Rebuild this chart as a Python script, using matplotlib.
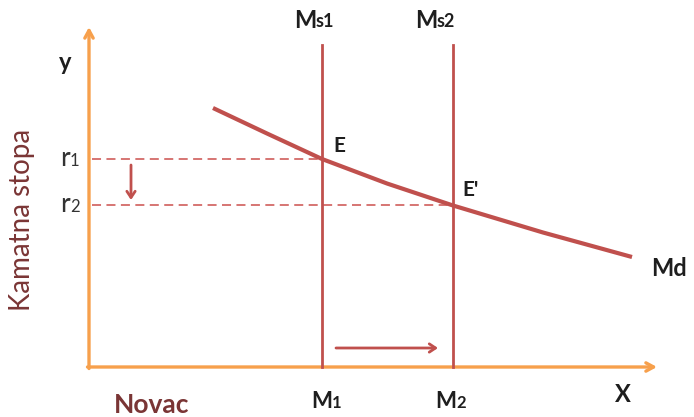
import matplotlib
matplotlib.use("Agg")
from matplotlib import pyplot as plt

plt.rcParams['font.family'] = ['Lato', 'DejaVu Sans']

# money market diagram, units: 1 unit ~ 50 px, origin at the axes corner
M1 = 4.66
M2 = 7.28
r1 = 4.16
r2 = 3.24
ms_top = 6.44

md_x = [2.48, 3.56, 4.66, 5.96, 7.28, 9.08, 10.86]
md_y = [5.18, 4.67, 4.16, 3.67, 3.23, 2.69, 2.20]

x_end = 11.36
y_end = 6.80

ORANGE = '#F7A04C'
RED = '#C0504D'
DASH = '#D36A68'
DARK = '#1E1E1E'
BROWN = '#7A3535'

fig = plt.figure(figsize=(6.94, 4.17), dpi=100)
ax = fig.add_axes([0, 0, 1, 1])
ax.set_xlim(-1.78, 12.1)
ax.set_ylim(-1.0, 7.34)
ax.axis('off')


def label(x, y, big, small, size=17, small_size=13, weight='bold', color=DARK):
    # big letter + smaller suffix sitting on the same baseline
    t = ax.text(x, y, big, fontsize=size, fontweight=weight, color=color,
                ha='right', va='center')
    ax.annotate(small, xy=(1, 0.08), xycoords=t, ha='left', va='bottom',
                fontsize=small_size, fontweight=weight, color=color)


# axes with arrows
ax.annotate('', xy=(0, y_end), xytext=(0, -0.03),
            arrowprops=dict(arrowstyle='->,head_length=0.55,head_width=0.3',
                            color=ORANGE, lw=2.4, shrinkA=0, shrinkB=0))
ax.annotate('', xy=(x_end, 0), xytext=(-0.03, 0),
            arrowprops=dict(arrowstyle='->,head_length=0.55,head_width=0.3',
                            color=ORANGE, lw=2.4, shrinkA=0, shrinkB=0))

# money supply lines
ax.plot([M1, M1], [0, ms_top], color=RED, lw=2.0, zorder=3)
ax.plot([M2, M2], [0, ms_top], color=RED, lw=2.0, zorder=3)

# dashed interest rate lines
ax.plot([0.06, M1], [r1, r1], color=DASH, lw=1.3, ls=(0, (5, 3)), zorder=2)
ax.plot([0.06, M2], [r2, r2], color=DASH, lw=1.3, ls=(0, (5, 3)), zorder=2)

# money demand
ax.plot(md_x, md_y, color=RED, lw=3.0, solid_capstyle='butt',
        solid_joinstyle='round', zorder=4)

# shift arrows
ax.annotate('', xy=(0.84, r2 + 0.1), xytext=(0.84, r1 - 0.12),
            arrowprops=dict(arrowstyle='->,head_length=0.45,head_width=0.3',
                            color=RED, lw=2.0, shrinkA=0, shrinkB=0))
ax.annotate('', xy=(6.98, 0.38), xytext=(4.94, 0.38),
            arrowprops=dict(arrowstyle='->,head_length=0.45,head_width=0.3',
                            color=RED, lw=2.0, shrinkA=0, shrinkB=0))

# labels
label(M1 - 0.12, ms_top + 0.5, 'M', 's1')
label(M2 - 0.32, ms_top + 0.5, 'M', 's2')
label(M1 + 0.2, -0.7, 'M', '1', size=16, small_size=12)
label(M2 + 0.06, -0.7, 'M', '2', size=16, small_size=12)
label(-0.38, r1, 'r', '1', size=19, small_size=12, weight='normal', color='#333333')
label(-0.38, r2 + 0.02, 'r', '2', size=19, small_size=12, weight='normal', color='#333333')

lab = dict(color=DARK, fontweight='bold', ha='center', va='center')
ax.text(-0.48, 6.08, 'y', fontsize=17, **lab)
ax.text(10.68, -0.54, 'X', fontsize=17, **lab)
ax.text(11.6, 1.98, 'Md', fontsize=17, **lab)
ax.text(M1 + 0.35, r1 + 0.26, 'E', fontsize=15, **lab)
ax.text(M2 + 0.36, r2 + 0.3, "E'", fontsize=15, **lab)

ax.text(1.26, -0.76, 'Novac', color=BROWN, fontsize=19, fontweight='bold',
        ha='center', va='center')
ax.text(-1.34, 2.94, 'Kamatna stopa', color=BROWN, fontsize=20, rotation=90,
        ha='center', va='center')

fig.savefig('out.png', dpi=100)
